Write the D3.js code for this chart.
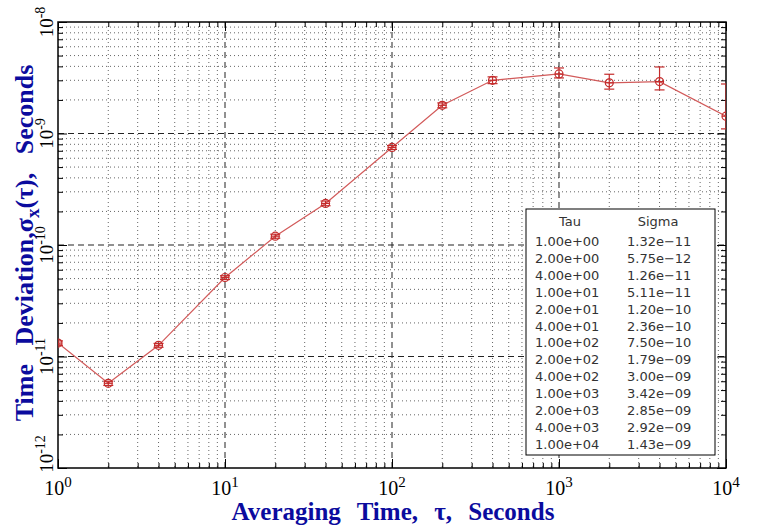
<!DOCTYPE html>
<html>
<head>
<meta charset="utf-8">
<script src="https://d3js.org/d3.v7.min.js"></script>
<style>
  body { margin: 0; background: #fff; }
  svg { display: block; }
</style>
</head>
<body>
<div id="chart"></div>
<script>
const tau   = [1, 2, 4, 10, 20, 40, 100, 200, 400, 1000, 2000, 4000, 10000];
const sigma = [1.32e-11, 5.75e-12, 1.26e-11, 5.11e-11, 1.20e-10, 2.36e-10, 7.50e-10,
               1.79e-9, 3.00e-9, 3.42e-9, 2.85e-9, 2.92e-9, 1.43e-9];
const errHi = [1.38e-11, 6.0e-12, 1.31e-11, 5.3e-11, 1.25e-10, 2.48e-10, 7.8e-10,
               1.88e-9, 3.22e-9, 3.87e-9, 3.40e-9, 3.95e-9, 2.78e-9];
const errLo = [1.26e-11, 5.5e-12, 1.21e-11, 4.9e-11, 1.15e-10, 2.25e-10, 7.2e-10,
               1.70e-9, 2.80e-9, 3.15e-9, 2.50e-9, 2.46e-9, 1.10e-9];
const tauLabels   = ["1.00e+00","2.00e+00","4.00e+00","1.00e+01","2.00e+01","4.00e+01","1.00e+02",
                     "2.00e+02","4.00e+02","1.00e+03","2.00e+03","4.00e+03","1.00e+04"];
const sigmaLabels = ["1.32e\u221211","5.75e\u221212","1.26e\u221211","5.11e\u221211","1.20e\u221210","2.36e\u221210","7.50e\u221210",
                     "1.79e\u221209","3.00e\u221209","3.42e\u221209","2.85e\u221209","2.92e\u221209","1.43e\u221209"];
const xDecades = [0, 1, 2, 3, 4];
const yDecades = [-12, -11, -10, -9, -8];

const W = 758, H = 529;
const margin = { top: 22, right: 32, bottom: 61, left: 58 };
const width = W - margin.left - margin.right;
const height = H - margin.top - margin.bottom;

const svg = d3.select("#chart").append("svg")
  .attr("width", W).attr("height", H);
const g = svg.append("g").attr("transform", `translate(${margin.left},${margin.top})`);

svg.append("defs").append("clipPath").attr("id", "plotclip")
  .append("rect").attr("width", width).attr("height", height);

const x = d3.scaleLog().domain([1, 1e4]).range([0, width]);
const y = d3.scaleLog().domain([1e-12, 1e-8]).range([height, 0]);

const xMajor = xDecades.map(e => Math.pow(10, e));
const yMajor = yDecades.map(e => Math.pow(10, e));
const xMinor = [], yMinor = [];
xDecades.slice(0, -1).forEach(e => { for (let k = 2; k <= 9; k++) xMinor.push(k * Math.pow(10, e)); });
yDecades.slice(0, -1).forEach(e => { for (let k = 2; k <= 9; k++) yMinor.push(k * Math.pow(10, e)); });

// minor grid (dotted)
const grid = g.append("g");
grid.selectAll(".gx").data(xMinor).enter().append("line")
  .attr("x1", d => x(d)).attr("x2", d => x(d)).attr("y1", 0).attr("y2", height)
  .attr("stroke", "#666").attr("stroke-width", 1).attr("stroke-dasharray", "1,3");
grid.selectAll(".gy").data(yMinor).enter().append("line")
  .attr("y1", d => y(d)).attr("y2", d => y(d)).attr("x1", 0).attr("x2", width)
  .attr("stroke", "#666").attr("stroke-width", 1).attr("stroke-dasharray", "1,3");
// major grid (dashed)
grid.selectAll(".Gx").data(xMajor.slice(1, -1)).enter().append("line")
  .attr("x1", d => x(d)).attr("x2", d => x(d)).attr("y1", 0).attr("y2", height)
  .attr("stroke", "#222").attr("stroke-width", 1).attr("stroke-dasharray", "6,4");
grid.selectAll(".Gy").data(yMajor.slice(1, -1)).enter().append("line")
  .attr("y1", d => y(d)).attr("y2", d => y(d)).attr("x1", 0).attr("x2", width)
  .attr("stroke", "#222").attr("stroke-width", 1).attr("stroke-dasharray", "6,4");

// inward ticks on all four sides
function ticks(axisFn, vals, size, transform) {
  const a = g.append("g").attr("transform", transform)
    .call(axisFn.tickValues(vals).tickSize(size).tickFormat(""));
  a.select(".domain").remove();
  a.selectAll("line").attr("stroke", "#000").attr("stroke-width", 1);
}
ticks(d3.axisBottom(x), xMinor, -5, `translate(0,${height})`);
ticks(d3.axisBottom(x), xMajor, -9, `translate(0,${height})`);
ticks(d3.axisTop(x), xMinor, -5, "translate(0,0)");
ticks(d3.axisTop(x), xMajor, -9, "translate(0,0)");
ticks(d3.axisLeft(y), yMinor, -5, "translate(0,0)");
ticks(d3.axisLeft(y), yMajor, -9, "translate(0,0)");
ticks(d3.axisRight(y), yMinor, -5, `translate(${width},0)`);
ticks(d3.axisRight(y), yMajor, -9, `translate(${width},0)`);

// frame
g.append("rect").attr("width", width).attr("height", height)
  .attr("fill", "none").attr("stroke", "#000").attr("stroke-width", 1.5);

// tick labels
const xl = g.append("g").attr("font-family", "Liberation Serif, serif").attr("font-size", 20).attr("fill", "#000");
xl.selectAll("text").data(xDecades).enter().append("text")
  .attr("x", d => x(Math.pow(10, d))).attr("y", height + 27)
  .attr("text-anchor", "middle")
  .each(function(d) {
    const t = d3.select(this);
    t.append("tspan").text("10");
    t.append("tspan").attr("dy", -8).attr("font-size", 15).text(d);
  });

const yl = g.append("g").attr("font-family", "Liberation Serif, serif").attr("font-size", 19).attr("fill", "#000");
yl.selectAll("text").data(yDecades).enter().append("text")
  .attr("transform", d => `translate(-5,${Math.min(y(Math.pow(10, d)), height - 14)}) rotate(-90)`)
  .attr("text-anchor", "middle")
  .each(function(d) {
    const t = d3.select(this);
    t.append("tspan").text("10");
    t.append("tspan").attr("dy", -8).attr("font-size", 14).text(d);
  });

// axis titles, word spacing stretched to the span the original uses
const blue = "#0b0b9e";
function fitSpaces(sel, target, nSpaces, maxGap) {
  const len = sel.node().getComputedTextLength();
  sel.attr("word-spacing", Math.min(maxGap, Math.max(0, (target - len) / nSpaces)));
}
const xt = svg.append("text")
  .attr("x", 393).attr("y", 520)
  .attr("text-anchor", "middle")
  .attr("font-family", "Liberation Serif, serif").attr("font-weight", "bold")
  .attr("font-size", 25).attr("fill", blue)
  .text("Averaging Time, \u03c4, Seconds");
fitSpaces(xt, 323, 3, 10);

const yt = svg.append("text")
  .attr("transform", "translate(33,243) rotate(-90)")
  .attr("text-anchor", "middle")
  .attr("font-family", "Liberation Serif, serif").attr("font-weight", "bold")
  .attr("font-size", 26).attr("fill", blue);
yt.append("tspan").text("Time Deviation,\u03c3");
yt.append("tspan").attr("dy", 6).attr("font-size", 19).text("x");
yt.append("tspan").attr("dy", -6).text("(\u03c4), Seconds");
fitSpaces(yt, 358, 2, 12);

// data line, error bars and markers
const red = "#c42a2a";
const pts = tau.map((t, i) => ({ t, s: sigma[i], hi: errHi[i], lo: errLo[i] }));
const plot = g.append("g").attr("clip-path", "url(#plotclip)");
plot.append("path").datum(pts)
  .attr("fill", "none").attr("stroke", "#d25a5a").attr("stroke-width", 1.2)
  .attr("d", d3.line().x(d => x(d.t)).y(d => y(d.s)));

const m = plot.append("g").attr("stroke", red).attr("fill", "none").attr("stroke-width", 1.2);
m.selectAll(".eb").data(pts).enter().append("line")
  .attr("x1", d => x(d.t)).attr("x2", d => x(d.t))
  .attr("y1", d => y(d.hi)).attr("y2", d => y(d.lo));
m.selectAll(".cu").data(pts).enter().append("line")
  .attr("x1", d => x(d.t) - 5).attr("x2", d => x(d.t) + 5)
  .attr("y1", d => y(d.hi)).attr("y2", d => y(d.hi));
m.selectAll(".cl").data(pts).enter().append("line")
  .attr("x1", d => x(d.t) - 5).attr("x2", d => x(d.t) + 5)
  .attr("y1", d => y(d.lo)).attr("y2", d => y(d.lo));
m.selectAll("circle").data(pts).enter().append("circle")
  .attr("cx", d => x(d.t)).attr("cy", d => y(d.s)).attr("r", 4);
m.selectAll(".hz").data(pts).enter().append("line")
  .attr("x1", d => x(d.t) - 4).attr("x2", d => x(d.t) + 4)
  .attr("y1", d => y(d.s)).attr("y2", d => y(d.s));

// table box
const box = svg.append("g").attr("font-family", "DejaVu Sans, sans-serif")
  .attr("font-size", 13).attr("fill", "#333");
box.append("rect").attr("x", 526).attr("y", 209).attr("width", 189).attr("height", 246)
  .attr("fill", "#fff").attr("stroke", "#000").attr("stroke-width", 1);
box.append("text").attr("x", 570).attr("y", 226).attr("text-anchor", "middle").text("Tau");
box.append("text").attr("x", 658).attr("y", 226).attr("text-anchor", "middle").text("Sigma");
box.selectAll(".tc").data(tauLabels).enter().append("text")
  .attr("x", 535).attr("y", (d, i) => 246 + i * 16.9).text(d => d);
box.selectAll(".sc").data(sigmaLabels).enter().append("text")
  .attr("x", 627).attr("y", (d, i) => 246 + i * 16.9).text(d => d);
</script>
</body>
</html>
